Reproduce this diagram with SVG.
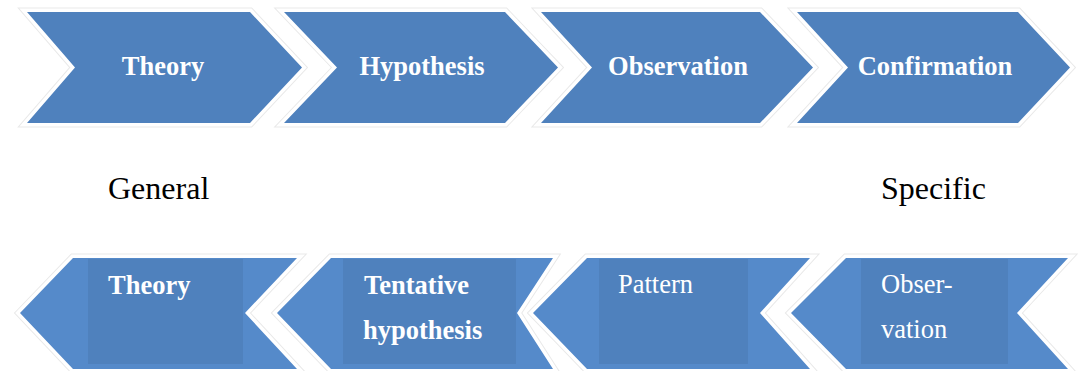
<svg xmlns="http://www.w3.org/2000/svg" width="1080" height="371" viewBox="0 0 1080 371">
  <style>
    .halo-out { fill: none; stroke: #e9e9e9; stroke-width: 9; stroke-linejoin: miter; }
    .halo-in  { fill: none; stroke: #ffffff; stroke-width: 7; stroke-linejoin: miter; }
    .chev     { fill: #4f81bd; }
    .arrow    { fill: #558aca; }
    .panel    { fill: #4f81bd; }
    .lbl      { font-family: "Liberation Serif", "Times New Roman", serif; fill: #ffffff; font-size: 26.5px; }
    .b        { font-weight: bold; }
    .mid      { text-anchor: middle; }
    .axis     { font-family: "Liberation Serif", "Times New Roman", serif; fill: #000000; font-size: 32px; }
  </style>

  <!-- deductive sequence: right-pointing chevrons -->
  <g id="top-theory">
    <polygon class="halo-out" points="27,12 250,12 302,67.5 250,123 27,123 75,67.5"/>
    <polygon class="halo-in" points="27,12 250,12 302,67.5 250,123 27,123 75,67.5"/>
    <polygon class="chev" points="27,12 250,12 302,67.5 250,123 27,123 75,67.5"/>
    <text class="lbl b mid" x="163" y="75">Theory</text>
  </g>
  <g id="top-hypothesis">
    <polygon class="halo-out" points="284,12 505,12 558,67.5 505,123 284,123 337,67.5"/>
    <polygon class="halo-in" points="284,12 505,12 558,67.5 505,123 284,123 337,67.5"/>
    <polygon class="chev" points="284,12 505,12 558,67.5 505,123 284,123 337,67.5"/>
    <text class="lbl b mid" x="422" y="75">Hypothesis</text>
  </g>
  <g id="top-observation">
    <polygon class="halo-out" points="541,12 760,12 813,67.5 760,123 541,123 592,67.5"/>
    <polygon class="halo-in" points="541,12 760,12 813,67.5 760,123 541,123 592,67.5"/>
    <polygon class="chev" points="541,12 760,12 813,67.5 760,123 541,123 592,67.5"/>
    <text class="lbl b mid" x="678" y="75">Observation</text>
  </g>
  <g id="top-confirmation">
    <polygon class="halo-out" points="797,12 1018,12 1070,67.5 1018,123 797,123 848,67.5"/>
    <polygon class="halo-in" points="797,12 1018,12 1070,67.5 1018,123 797,123 848,67.5"/>
    <polygon class="chev" points="797,12 1018,12 1070,67.5 1018,123 797,123 848,67.5"/>
    <text class="lbl b mid" x="935" y="75">Confirmation</text>
  </g>

  <!-- scale labels -->
  <g id="label-general">
    <text class="axis" x="108" y="199">General</text>
  </g>
  <g id="label-specific">
    <text class="axis" x="881" y="199">Specific</text>
  </g>

  <!-- inductive sequence: left-pointing arrows -->
  <g id="bottom-theory">
    <polygon class="halo-out" points="20,313 73,258 297,258 245,313 297,369 73,369"/>
    <polygon class="halo-in" points="20,313 73,258 297,258 245,313 297,369 73,369"/>
    <polygon class="arrow" points="20,313 73,258 297,258 245,313 297,369 73,369"/>
    <rect class="panel" x="88" y="259" width="155" height="105"/>
    <text class="lbl b" x="108" y="294">Theory</text>
  </g>
  <g id="bottom-tentative">
    <polygon class="halo-out" points="277,313 331,258 553,258 517,313 553,369 331,369"/>
    <polygon class="halo-in" points="277,313 331,258 553,258 517,313 553,369 331,369"/>
    <polygon class="arrow" points="277,313 331,258 553,258 517,313 553,369 331,369"/>
    <rect class="panel" x="343" y="259" width="173" height="105"/>
    <text class="lbl b" x="364" y="294">Tentative</text>
    <text class="lbl b" x="363" y="339">hypothesis</text>
  </g>
  <g id="bottom-pattern">
    <polygon class="halo-out" points="533,313 587,258 810,258 760,313 810,369 587,369"/>
    <polygon class="halo-in" points="533,313 587,258 810,258 760,313 810,369 587,369"/>
    <polygon class="arrow" points="533,313 587,258 810,258 760,313 810,369 587,369"/>
    <rect class="panel" x="599" y="259" width="149" height="105"/>
    <text class="lbl" x="618" y="293">Pattern</text>
  </g>
  <g id="bottom-observation">
    <polygon class="halo-out" points="791,313 846,258 1068,258 1017,313 1068,369 846,369"/>
    <polygon class="halo-in" points="791,313 846,258 1068,258 1017,313 1068,369 846,369"/>
    <polygon class="arrow" points="791,313 846,258 1068,258 1017,313 1068,369 846,369"/>
    <rect class="panel" x="861" y="259" width="147" height="105"/>
    <text class="lbl" x="881" y="293">Obser-</text>
    <text class="lbl" x="881" y="338">vation</text>
  </g>
</svg>
